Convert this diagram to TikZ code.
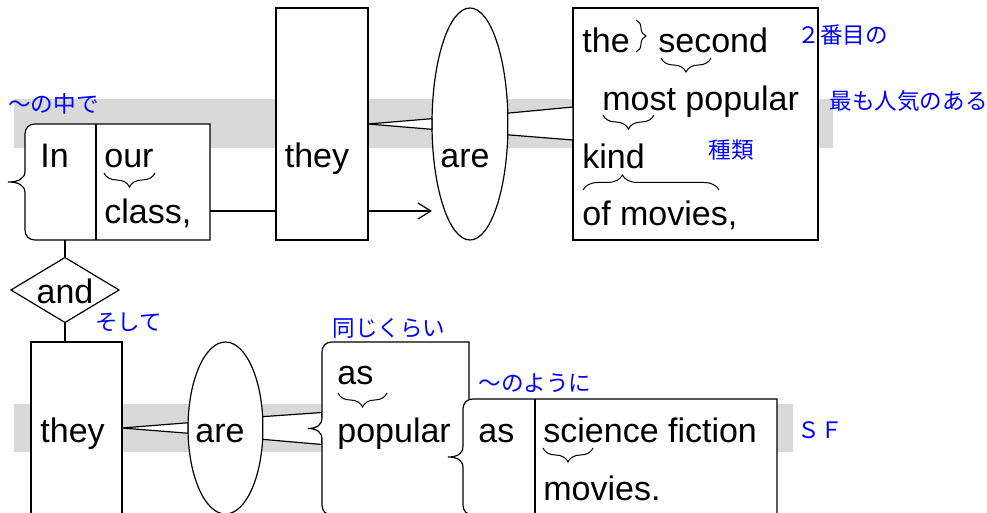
\documentclass[tikz,border=0pt]{standalone}
\usepackage{fontspec}
\setmainfont{Liberation Sans}
\newfontfamily\jpfont{Noto Sans CJK JP}
\usetikzlibrary{shapes.geometric,decorations.pathreplacing,arrows.meta}

\tikzset{
  ln/.style={line width=0.6pt},
  frame/.style={rectangle,draw,ln,fill=white,inner sep=0,outer sep=0},
  slot/.style={rectangle,inner sep=0,outer sep=0},
  oval/.style={ellipse,draw,ln,fill=white,inner sep=0,outer sep=0},
  word/.style={inner sep=0,yshift=-1.2pt,font=\fontsize{17pt}{20pt}\selectfont},
  jp/.style={inner sep=0,anchor=west,text=blue,font=\jpfont\fontsize{11.3pt}{14pt}\selectfont},
  band/.style={fill=black!15},
  tie/.style={ln,fill=white,line join=round},
  curly/.style={decorate,decoration={brace,amplitude=#1},line width=0.5pt},
  curly/.default=7pt
}

% box whose left side is a curly brace
\newcommand{\bracebox}[2]{%
  \draw[ln,fill=white] (#1.north east) -- ([xshift=5pt]#1.north west)
    .. controls ([xshift=2pt]#1.north west) and ([yshift=-2pt]#1.north west) .. ([yshift=-5pt]#1.north west)
    -- ([yshift=5.5pt]#1.west)
    .. controls ([yshift=1.5pt]#1.west) and ([xshift=-0.4*#2]#1.west) .. ([xshift=-#2]#1.west)
    .. controls ([xshift=-0.4*#2]#1.west) and ([yshift=-1.5pt]#1.west) .. ([yshift=-5.5pt]#1.west)
    -- ([yshift=5pt]#1.south west)
    .. controls ([yshift=2pt]#1.south west) and ([xshift=2pt]#1.south west) .. ([xshift=5pt]#1.south west)
    -- (#1.south east) -- cycle;}

\begin{document}
\begin{tikzpicture}[x=0.5pt,y=-0.5pt,>={Straight Barb[length=6.5pt,width=8pt]}]
\useasboundingbox (0,0) rectangle (987,513);
\clip (0,0) rectangle (987,513);

% grey bands
\fill[band] (14,99) rectangle (833,148);
\fill[band] (14,404) rectangle (793,452);

% first clause
\node[slot,minimum width=92.5pt,minimum height=58pt] (inbox) at (117.5,182) {};
\node[frame,minimum width=46pt,minimum height=116pt] (they1) at (322,124) {};
\node[oval,minimum width=38pt,minimum height=116pt] (are1) at (470,124) {};
\node[frame,minimum width=122.5pt,minimum height=116pt] (rbox) at (695.5,124) {};
\node[diamond,draw,ln,fill=white,inner sep=0,outer sep=0,minimum width=54pt,minimum height=32.5pt] (and) at (65,290) {};

% second clause
\node[frame,minimum width=45.5pt,minimum height=86pt] (they2) at (76.5,428) {};
\node[oval,minimum width=37.5pt,minimum height=86pt] (are2) at (225.5,428) {};
\node[slot,minimum width=73.5pt,minimum height=86.5pt] (pbox) at (395.5,428.5) {};
\node[slot,minimum width=157pt,minimum height=58pt] (ibox) at (620,457) {};

% connectors
\draw[tie] (they1.east) -- (are1.172) -- (are1.188) -- cycle;
\draw[tie] (are1.16) -- ([yshift=8.5pt]rbox.west) -- ([yshift=-8pt]rbox.west) -- (are1.-16) -- cycle;
\draw[tie] (they2.east) -- (are2.172) -- (are2.188) -- cycle;
\draw[tie] (are2.17) -- ([yshift=8pt]pbox.west) -- ([yshift=-8pt]pbox.west) -- (are2.-17) -- cycle;

\bracebox{inbox}{8.5pt}
\draw[ln] ([xshift=35.5pt]inbox.north west) -- ([xshift=35.5pt]inbox.south west);
\bracebox{pbox}{7pt}
\bracebox{ibox}{7.5pt}
\draw[ln] ([xshift=36pt]ibox.north west) -- ([xshift=36pt]ibox.south west);

\coordinate (lk) at ([yshift=-14.5pt]inbox.east);
\draw[ln] (lk) -- (lk -| they1.west);
\draw[ln,->] (lk -| they1.east) -- (lk -| are1.west);
\draw[ln] (and.north |- inbox.south) -- (and.north);
\draw[ln] (and.south) -- (and.south |- they2.north);

% words
\node[word,anchor=base west] (w-in) at (40,165) {In};
\node[word,anchor=base west] (w-our) at (104,165) {our};
\node[word,anchor=base west] (w-class) at (104,221) {class,};
\node[word,anchor=base] (w-they1) at (317,165) {they};
\node[word,anchor=base] (w-are1) at (465,165) {are};
\node[word,anchor=base west] (w-the) at (582,50) {the};
\node[word,anchor=base west] (w-second) at (658,50) {second};
\node[word,anchor=base west] (w-most) at (602,108) {most popular};
\node[word,anchor=base west] (w-kind) at (582,166) {kind};
\node[word,anchor=base west] (w-of) at (582,223) {of movies,};
\node[word,anchor=base] (w-and) at (65,301) {and};
\node[word,anchor=base west] (w-they2) at (40,440) {they};
\node[word,anchor=base] (w-are2) at (220,440) {are};
\node[word,anchor=base west] (w-as1) at (337,382) {as};
\node[word,anchor=base west] (w-popular) at (337,440) {popular};
\node[word,anchor=base west] (w-as2) at (478,440) {as};
\node[word,anchor=base west] (w-sf) at (543,440) {science fiction};
\node[word,anchor=base west] (w-movies) at (543,498) {movies.};

% small braces
\draw[curly=5pt] (636,20) -- (636,52);
\draw[curly] (711,58) -- (661,58);
\draw[curly] (654,115) -- (603,115);
\draw[curly] (155,173) -- (104,173);
\draw[curly] (387,393) -- (338,393);
\draw[curly] (593,448) -- (543,448);
\draw[decorate,decoration={brace,amplitude=7.5pt,aspect=0.29},line width=0.5pt] (583,190) -- (719,190);

% glosses
\node[jp] (g-in) at (8,104) {～の中で};
\node[jp] (g-second) at (797,35) {２番目の};
\node[jp] (g-most) at (829,101) {最も人気のある};
\node[jp] (g-kind) at (708,150) {種類};
\node[jp] (g-and) at (95,322) {そして};
\node[jp] (g-as1) at (332,328) {同じくらい};
\node[jp] (g-as2) at (478,383) {～のように};
\node[jp] (g-sf) at (797,430) {ＳＦ};
\end{tikzpicture}
\end{document}
